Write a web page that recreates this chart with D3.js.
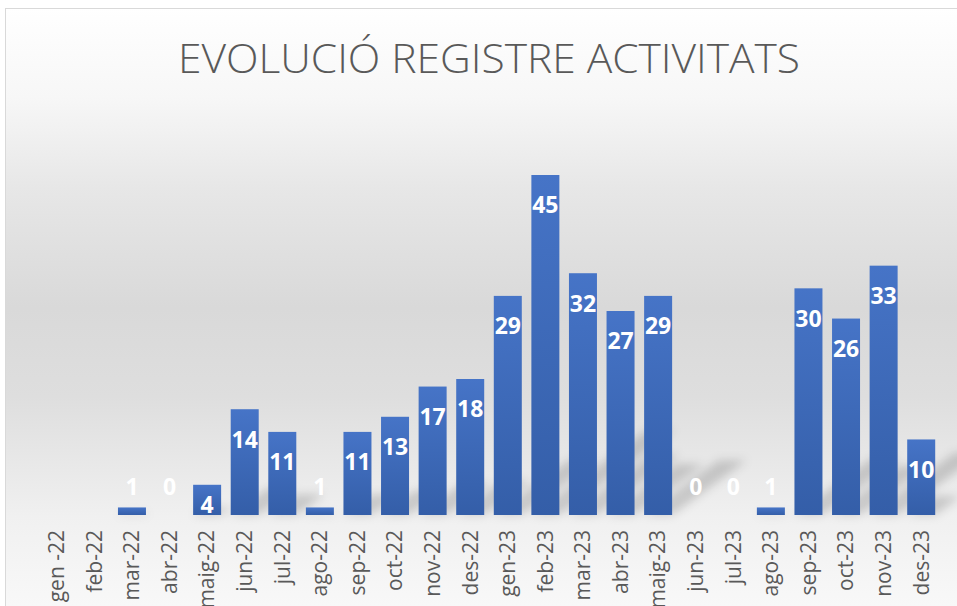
<!DOCTYPE html>
<html>
<head>
<meta charset="utf-8">
<script src="https://cdn.jsdelivr.net/npm/d3@7"></script>
<style>
  body { margin: 0; background: #ffffff; }
  svg { display: block; }
</style>
</head>
<body>
<div id="chart"></div>
<script>
// months as they appear on the axis (first two have no data label)
var months = ["gen -22", "feb-22", "mar-22", "abr-22", "maig-22", "jun-22", "jul-22", "ago-22",
  "sep-22", "oct-22", "nov-22", "des-22", "gen-23", "feb-23", "mar-23", "abr-23",
  "maig-23", "jun-23", "jul-23", "ago-23", "sep-23", "oct-23", "nov-23", "des-23"];
var activitats = [null, null, 1, 0, 4, 14, 11, 1, 11, 13, 17, 18, 29, 45, 32, 27, 29, 0, 0, 1, 30, 26, 33, 10];
var yDomain = [0, 50];
var chartTitle = "EVOLUCIÓ REGISTRE ACTIVITATS";

var width = 957, height = 606;
var baseline = 515;

var data = months.map(function(m, i) { return { mes: m, valor: activitats[i] }; });

var svg = d3.select("#chart").append("svg")
    .attr("width", width)
    .attr("height", height);

var defs = svg.append("defs");

// chart area background: white at the top, grey in the middle, lighter at the bottom
var bg = defs.append("linearGradient")
    .attr("id", "bg-grad")
    .attr("gradientUnits", "userSpaceOnUse")
    .attr("x1", 0).attr("y1", 8).attr("x2", 0).attr("y2", 606);
[[0, "#ffffff"], [0.15, "#f7f7f7"], [0.3, "#e7e7e7"], [0.5, "#d9d9d9"], [0.65, "#dedede"], [0.85, "#f0f0f0"], [1, "#f8f8f8"]]
  .forEach(function(s) {
    bg.append("stop").attr("offset", s[0]).attr("stop-color", s[1]);
  });

var barGrad = defs.append("linearGradient")
    .attr("id", "bar-grad")
    .attr("x1", 0).attr("y1", 0).attr("x2", 0).attr("y2", 1);
barGrad.append("stop").attr("offset", 0).attr("stop-color", "#4674c7");
barGrad.append("stop").attr("offset", 1).attr("stop-color", "#345ea8");

defs.append("filter")
    .attr("id", "blur")
    .attr("x", "-50%").attr("y", "-50%").attr("width", "200%").attr("height", "200%")
  .append("feGaussianBlur")
    .attr("stdDeviation", 5);

svg.append("rect")
    .attr("x", 5.5).attr("y", 8.5)
    .attr("width", width).attr("height", height)
    .attr("fill", "url(#bg-grad)")
    .attr("stroke", "#d9d9d9")
    .attr("stroke-width", 1);

// title
svg.append("text")
    .attr("x", 489)
    .attr("y", 73)
    .attr("text-anchor", "middle")
    .attr("font-family", "'Open Sans', sans-serif")
    .attr("font-weight", 300)
    .attr("font-size", 40)
    .attr("fill", "#595959")
    .attr("textLength", 622)
    .attr("lengthAdjust", "spacingAndGlyphs")
    .text(chartTitle);

var x = d3.scaleBand()
    .domain(months)
    .range([38, 940])
    .paddingInner(0.255)
    .paddingOuter(0.1275);

var y = d3.scaleLinear()
    .domain(yDomain)
    .range([baseline, baseline - 50 * 340 / 45]);

// perspective shadow of the bars, thrown up and to the right
svg.append("g")
    .attr("filter", "url(#blur)")
  .selectAll("path")
  .data(data.filter(function(d) { return d.valor; }))
  .enter().append("path")
    .attr("fill", "#000000")
    .attr("fill-opacity", 0.16)
    .attr("d", function(d) {
      var h = baseline - y(d.valor);
      var x0 = x(d.mes), x1 = x(d.mes) + x.bandwidth();
      var dx = 0.34 * h, dy = 0.25 * h;
      return "M" + x0 + "," + baseline + "L" + x1 + "," + baseline +
        "L" + (x1 + dx) + "," + (baseline - dy) + "L" + (x0 + dx) + "," + (baseline - dy) + "Z";
    });

// bars
svg.append("g")
  .selectAll("rect")
  .data(data.filter(function(d) { return d.valor; }))
  .enter().append("rect")
    .attr("x", function(d) { return x(d.mes); })
    .attr("y", function(d) { return y(d.valor); })
    .attr("width", x.bandwidth())
    .attr("height", function(d) { return baseline - y(d.valor); })
    .attr("fill", "url(#bar-grad)");

// data labels (inside end, above the bar when it is too short)
svg.append("g")
  .selectAll("text")
  .data(data.filter(function(d) { return d.valor !== null; }))
  .enter().append("text")
    .attr("x", function(d) { return x(d.mes) + x.bandwidth() / 2; })
    .attr("y", function(d) {
      var top = y(d.valor), h = baseline - top;
      return h < 20 ? baseline - 28 : Math.min(top + 30, baseline - 10);
    })
    .attr("dy", "0.36em")
    .attr("text-anchor", "middle")
    .attr("font-family", "'Open Sans', sans-serif")
    .attr("font-weight", "bold")
    .attr("font-size", 23)
    .attr("fill", "#ffffff")
    .text(function(d) { return d.valor; });

// category axis, labels rotated
var xAxis = svg.append("g")
    .attr("transform", "translate(0," + baseline + ")")
    .call(d3.axisBottom(x).tickSize(0).tickPadding(0));

xAxis.select(".domain").remove();
xAxis.selectAll("text")
    .attr("font-family", "'Open Sans', sans-serif")
    .attr("font-size", 21)
    .attr("fill", "#595959")
    .attr("text-anchor", "end")
    .attr("transform", "rotate(-90)")
    .attr("x", -15)
    .attr("y", 0)
    .attr("dy", "0.35em");
</script>
</body>
</html>
